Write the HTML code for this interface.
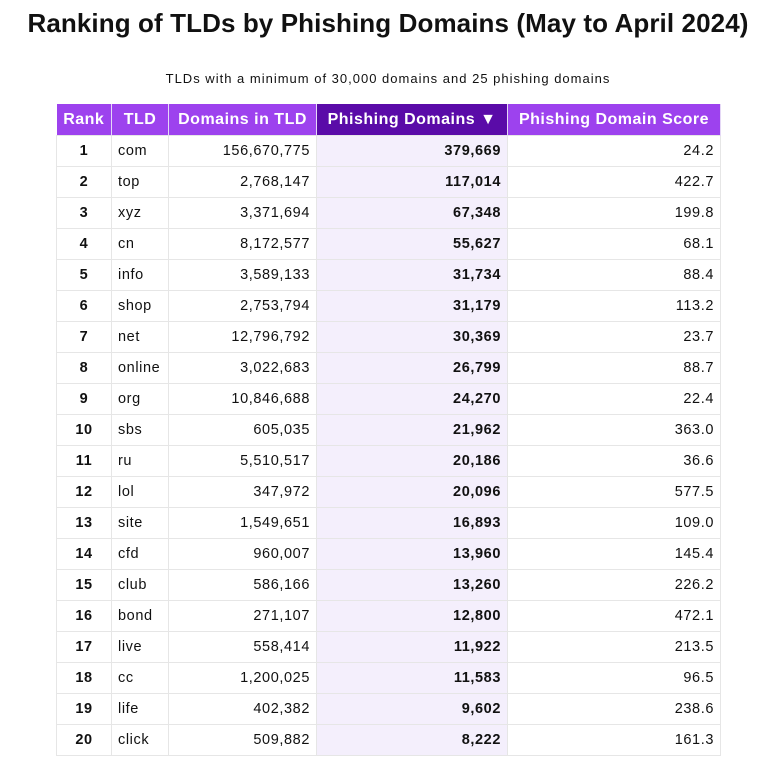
<!DOCTYPE html>
<html><head><style>
body{margin:0;width:784px;height:764px;background:#fff;font-family:"Liberation Sans",sans-serif;color:#111;position:relative;overflow:hidden}
h1{position:absolute;top:8px;left:0;width:776px;text-align:center;margin:0;font-size:26px;font-weight:bold;letter-spacing:0.1px}
.sub{position:absolute;top:71px;left:0;width:776px;text-align:center;font-size:13px;letter-spacing:1px}
table{position:absolute;left:56px;top:104px;border-collapse:collapse;font-size:14.5px;letter-spacing:0.6px}
th{background:#9d42ee;color:#fff;height:31px;padding:0 6px;font-size:16px;font-weight:bold;border-right:1px solid #e5d8f6;letter-spacing:0.5px}
th.s{background:#5a0ba8}
td{height:30px;border:1px solid #e6e6e6;padding:0 6px}
td.r{text-align:center;font-weight:bold}
td.n{text-align:right}
td.p{text-align:right;font-weight:bold;background:#f4effc}
</style></head><body>
<h1>Ranking of TLDs by Phishing Domains (May to April 2024)</h1>
<div class="sub">TLDs with a minimum of 30,000 domains and 25 phishing domains</div>
<table>
<colgroup><col style="width:55px"><col style="width:57px"><col style="width:148px"><col style="width:191px"><col style="width:213px"></colgroup>
<tr><th>Rank</th><th>TLD</th><th>Domains in TLD</th><th class="s">Phishing Domains ▼</th><th>Phishing Domain Score</th></tr>
<tr><td class="r">1</td><td>com</td><td class="n">156,670,775</td><td class="p">379,669</td><td class="n">24.2</td></tr>
<tr><td class="r">2</td><td>top</td><td class="n">2,768,147</td><td class="p">117,014</td><td class="n">422.7</td></tr>
<tr><td class="r">3</td><td>xyz</td><td class="n">3,371,694</td><td class="p">67,348</td><td class="n">199.8</td></tr>
<tr><td class="r">4</td><td>cn</td><td class="n">8,172,577</td><td class="p">55,627</td><td class="n">68.1</td></tr>
<tr><td class="r">5</td><td>info</td><td class="n">3,589,133</td><td class="p">31,734</td><td class="n">88.4</td></tr>
<tr><td class="r">6</td><td>shop</td><td class="n">2,753,794</td><td class="p">31,179</td><td class="n">113.2</td></tr>
<tr><td class="r">7</td><td>net</td><td class="n">12,796,792</td><td class="p">30,369</td><td class="n">23.7</td></tr>
<tr><td class="r">8</td><td>online</td><td class="n">3,022,683</td><td class="p">26,799</td><td class="n">88.7</td></tr>
<tr><td class="r">9</td><td>org</td><td class="n">10,846,688</td><td class="p">24,270</td><td class="n">22.4</td></tr>
<tr><td class="r">10</td><td>sbs</td><td class="n">605,035</td><td class="p">21,962</td><td class="n">363.0</td></tr>
<tr><td class="r">11</td><td>ru</td><td class="n">5,510,517</td><td class="p">20,186</td><td class="n">36.6</td></tr>
<tr><td class="r">12</td><td>lol</td><td class="n">347,972</td><td class="p">20,096</td><td class="n">577.5</td></tr>
<tr><td class="r">13</td><td>site</td><td class="n">1,549,651</td><td class="p">16,893</td><td class="n">109.0</td></tr>
<tr><td class="r">14</td><td>cfd</td><td class="n">960,007</td><td class="p">13,960</td><td class="n">145.4</td></tr>
<tr><td class="r">15</td><td>club</td><td class="n">586,166</td><td class="p">13,260</td><td class="n">226.2</td></tr>
<tr><td class="r">16</td><td>bond</td><td class="n">271,107</td><td class="p">12,800</td><td class="n">472.1</td></tr>
<tr><td class="r">17</td><td>live</td><td class="n">558,414</td><td class="p">11,922</td><td class="n">213.5</td></tr>
<tr><td class="r">18</td><td>cc</td><td class="n">1,200,025</td><td class="p">11,583</td><td class="n">96.5</td></tr>
<tr><td class="r">19</td><td>life</td><td class="n">402,382</td><td class="p">9,602</td><td class="n">238.6</td></tr>
<tr><td class="r">20</td><td>click</td><td class="n">509,882</td><td class="p">8,222</td><td class="n">161.3</td></tr>
</table>
</body></html>
